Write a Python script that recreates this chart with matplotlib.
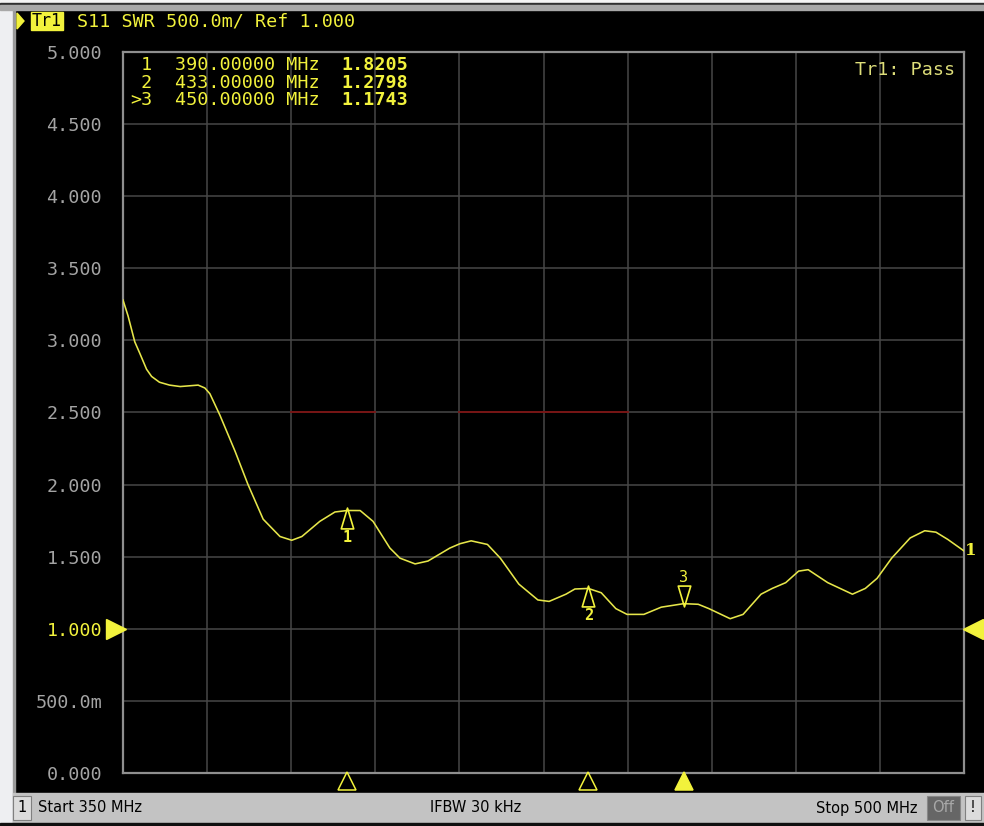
import matplotlib
matplotlib.use("Agg")
import matplotlib.pyplot as plt
from matplotlib.patches import Rectangle, Polygon
from matplotlib.transforms import offset_copy
from matplotlib.path import Path

# ---------------- data ----------------
freq_mhz = [350.0, 350.9, 352.1, 353.0, 354.2, 355.1, 356.5, 358.3, 360.2, 363.4,
            364.6, 365.5, 367.3, 370.0, 372.3, 375.0, 378.0, 380.1, 381.9, 385.1,
            387.8, 390.0, 392.3, 394.6, 397.6, 399.4, 402.1, 404.4, 408.3, 410.1,
            412.1, 415.0, 417.3, 420.6, 424.0, 426.0, 429.0, 430.6, 433.0, 435.3,
            437.9, 439.9, 442.9, 446.0, 450.0, 452.6, 454.5, 458.3, 460.6, 463.8,
            465.8, 468.2, 470.5, 472.2, 475.7, 480.1, 482.4, 484.5, 487.1, 490.4,
            493.0, 495.0, 497.1, 500.0]
swr = [3.28, 3.17, 2.99, 2.91, 2.80, 2.75, 2.71, 2.69, 2.68, 2.69,
       2.67, 2.63, 2.48, 2.23, 2.00, 1.76, 1.64, 1.614, 1.64, 1.745,
       1.81, 1.8205, 1.82, 1.745, 1.56, 1.49, 1.45, 1.47, 1.56, 1.59,
       1.61, 1.585, 1.49, 1.31, 1.20, 1.19, 1.24, 1.276, 1.2798, 1.25,
       1.14, 1.10, 1.10, 1.15, 1.1743, 1.17, 1.14, 1.07, 1.10, 1.24,
       1.28, 1.32, 1.40, 1.41, 1.32, 1.24, 1.28, 1.35, 1.49, 1.63,
       1.68, 1.67, 1.62, 1.54]

marker_ids = ["1", "2", "3"]
marker_freqs = [390.0, 433.0, 450.0]
marker_vals = [1.8205, 1.2798, 1.1743]
active_marker = 2

limit_segments = [(380.0, 395.0), (410.0, 440.0)]
limit_value = 2.5

y_ticks = [0.0, 0.5, 1.0, 1.5, 2.0, 2.5, 3.0, 3.5, 4.0, 4.5, 5.0]
y_tick_labels = ["0.000", "500.0m", "1.000", "1.500", "2.000", "2.500",
                 "3.000", "3.500", "4.000", "4.500", "5.000"]
ref_value = 1.0
f_start, f_stop = 350.0, 500.0
x_ticks = [350 + 15 * k for k in range(11)]

title_text = "S11 SWR 500.0m/ Ref 1.000"
status_start = "Start 350 MHz"
status_ifbw = "IFBW 30 kHz"
status_stop = "Stop 500 MHz"
pass_text = "Tr1: Pass"

# ---------------- styling ----------------
W, H = 984, 826
YEL = "#f2f23c"
TRACE = "#e6e64a"
GRID = "#474747"
FRAME = "#8f8f8f"
LABEL_GREY = "#a4a4a4"
MONO = "DejaVu Sans Mono"
FS = 13.2

fig = plt.figure(figsize=(W / 100, H / 100), dpi=100)
fig.patch.set_facecolor("black")

# chrome axes in pixel coordinates (drawn above main axes, transparent)
bg = fig.add_axes([0, 0, 1, 1])
bg.set_xlim(0, W)
bg.set_ylim(H, 0)
bg.axis("off")
bg.add_patch(Rectangle((0, 0), 13, H, color="#eeeff2", zorder=1))
bg.add_patch(Rectangle((13, 0), 2, H, color="#9a9a9a", zorder=1))
bg.add_patch(Rectangle((0, 0), W, 3, color="#f4f4f4", zorder=1))
bg.add_patch(Rectangle((0, 3), W, 1.5, color="#303030", zorder=1))
bg.add_patch(Rectangle((0, 4.5), W, 5.5, color="#a8a8a8", zorder=1))
# status bar
bg.add_patch(Rectangle((13, 793), W, 30, color="#c3c3c3", zorder=1))
bg.add_patch(Rectangle((0, 823), W, 3, color="#101010", zorder=1))
bg.add_patch(Rectangle((13, 796), 18, 24, facecolor="#dcdcdc", edgecolor="#808080", lw=0.8, zorder=2))
bg.text(22, 808, "1", ha="center", va="center", fontsize=10.5, color="black", zorder=3)
bg.text(38, 808, status_start, ha="left", va="center", fontsize=10.5, color="black", zorder=3)
bg.text(476, 808, status_ifbw, ha="center", va="center", fontsize=10.5, color="black", zorder=3)
bg.text(918, 808, status_stop, ha="right", va="center", fontsize=10.5, color="black", zorder=3)
bg.add_patch(Rectangle((927, 796), 33, 24, facecolor="#666666", edgecolor="#888888", lw=0.8, zorder=2))
bg.text(943.5, 808, "Off", ha="center", va="center", fontsize=10.5, color="#a8a8a8", zorder=3)
bg.add_patch(Rectangle((965, 796), 16, 24, facecolor="#dcdcdc", edgecolor="#808080", lw=0.8, zorder=2))
bg.text(973, 808, "!", ha="center", va="center", fontsize=10.5, color="black", zorder=3)

# title bar
bg.add_patch(Polygon([[17, 13], [24, 21], [17, 29]], closed=True, color=YEL, zorder=3))
bg.add_patch(Rectangle((31, 12), 32, 18, color=YEL, zorder=3))
bg.text(47, 21.5, "Tr1", ha="center", va="center", family=MONO, fontsize=12,
        color="black", zorder=4)
bg.text(77, 21.5, title_text, ha="left", va="center", family=MONO, fontsize=FS,
        color=YEL, zorder=4)

# ---------------- main plot axes ----------------
L, R, T, B = 123, 964, 52, 773
ax = fig.add_axes([L / W, (H - B) / H, (R - L) / W, (B - T) / H])
ax.set_facecolor("black")
ax.set_xlim(f_start, f_stop)
ax.set_ylim(0, 5)
ax.set_xticks(x_ticks)
ax.set_xticklabels([])
ax.set_yticks(y_ticks)
ax.set_yticklabels(y_tick_labels, family=MONO, fontsize=FS, color=LABEL_GREY)
for lbl, v in zip(ax.get_yticklabels(), y_ticks):
    if v == ref_value:
        lbl.set_color(YEL)
ax.tick_params(axis="both", length=0, pad=15)
ax.grid(True, color=GRID, lw=1.1)
ax.set_axisbelow(True)
for s in ax.spines.values():
    s.set_color(FRAME)
    s.set_linewidth(1.6)

# limit lines
for a, b in limit_segments:
    ax.plot([a, b], [limit_value, limit_value], color="#7c1212", lw=1.3, zorder=2)

# trace
ax.plot(freq_mhz, swr, color=TRACE, lw=1.15, zorder=4, solid_joinstyle="round")

# trace id label at end
ax.annotate("1", xy=(freq_mhz[-1], swr[-1]), xytext=(1, 0), textcoords="offset pixels",
            ha="left", va="center", fontsize=12, fontweight="bold", family="DejaVu Serif",
            color=YEL, annotation_clip=False, zorder=6)

# reference level arrows
tl = offset_copy(ax.transData, fig=fig, x=-7, y=0, units="dots")
ax.plot([f_start], [ref_value], marker=">", markersize=14, color=YEL, clip_on=False,
        transform=tl, zorder=6)
tr = offset_copy(ax.transData, fig=fig, x=9, y=0, units="dots")
ax.plot([f_stop], [ref_value], marker="<", markersize=14, color=YEL, clip_on=False,
        transform=tr, zorder=6)

# marker shapes on trace
up_tri = Path([(0, 0.5), (-0.3, -0.5), (0.3, -0.5), (0, 0.5)],
              [Path.MOVETO, Path.LINETO, Path.LINETO, Path.CLOSEPOLY])
down_tri = Path([(0, -0.5), (-0.3, 0.5), (0.3, 0.5), (0, -0.5)],
                [Path.MOVETO, Path.LINETO, Path.LINETO, Path.CLOSEPOLY])
for i, (mid, f, v) in enumerate(zip(marker_ids, marker_freqs, marker_vals)):
    if i == active_marker:
        t = offset_copy(ax.transData, fig=fig, x=0, y=8, units="dots")
        ax.plot([f], [v], marker=down_tri, markersize=15, markerfacecolor="none",
                markeredgecolor=YEL, markeredgewidth=1.2, transform=t, zorder=5)
        ax.annotate(mid, xy=(f, v), xytext=(0, 26), textcoords="offset pixels",
                    ha="center", va="center", family=MONO, fontsize=11, color=YEL, zorder=5)
    else:
        t = offset_copy(ax.transData, fig=fig, x=0, y=-8, units="dots")
        ax.plot([f], [v], marker=up_tri, markersize=15, markerfacecolor="none",
                markeredgecolor=YEL, markeredgewidth=1.2, transform=t, zorder=5)
        ax.annotate(mid, xy=(f, v), xytext=(0, -27), textcoords="offset pixels",
                    ha="center", va="center", family=MONO, fontsize=11,
                    fontweight="bold", color=YEL, zorder=5)

# marker triangles under the x axis
tb = offset_copy(ax.transData, fig=fig, x=0, y=-8, units="dots")
for i, f in enumerate(marker_freqs):
    filled = (i == active_marker)
    ax.plot([f], [0], marker="^", markersize=12.5, clip_on=False, transform=tb,
            markerfacecolor=YEL if filled else "none", markeredgecolor=YEL,
            markeredgewidth=1.1, zorder=6)

# marker table
row_y = [65, 83, 100]
for i, (mid, f, v) in enumerate(zip(marker_ids, marker_freqs, marker_vals)):
    prefix = (">" if i == active_marker else " ") + mid
    bg.text(130, row_y[i], prefix, ha="left", va="center", family=MONO, fontsize=FS,
            color=YEL, zorder=10)
    bg.text(175, row_y[i], f"{f:.5f} MHz", ha="left", va="center", family=MONO,
            fontsize=FS, color=YEL, zorder=10)
    bg.text(341, row_y[i], f"{v:.4f}", ha="left", va="center", family=MONO,
            fontsize=FS, fontweight="bold", color=YEL, zorder=10)

bg.text(955, 70, pass_text, ha="right", va="center", family=MONO, fontsize=FS,
        color="#dede7a", zorder=10)

bg.set_zorder(ax.get_zorder() + 1)
bg.patch.set_visible(False)
fig.savefig("out.png", dpi=100, facecolor=fig.get_facecolor())
